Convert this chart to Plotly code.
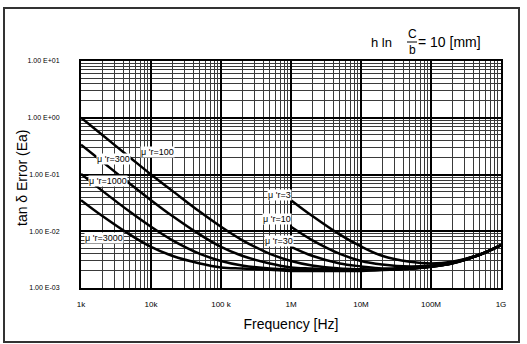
import plotly.graph_objects as go

# frequencies [Hz] and tan-delta error
freq = [1e3, 2e3, 5e3, 1e4, 2e4, 5e4, 1e5, 2e5, 5e5, 1e6, 2e6, 5e6,
        1e7, 2e7, 5e7, 1e8, 2e8, 5e8, 1e9]
freq_hi = [1e6, 2e6, 5e6, 1e7, 2e7, 5e7, 1e8, 2e8, 5e8, 1e9]

ea_100 = [1.0, 0.50, 0.20, 0.10, 0.052, 0.022, 0.012, 0.0070, 0.0040, 0.0030,
          0.0025, 0.0022, 0.00214, 0.00212, 0.0022, 0.00238, 0.00274, 0.00385, 0.0057]
ea_300 = [0.335, 0.169, 0.0687, 0.0353, 0.0187, 0.0087, 0.0053, 0.0037, 0.0027, 0.0023,
          0.0022, 0.0021, 0.00207, 0.00209, 0.00219, 0.00237, 0.00274, 0.00385, 0.0057]
ea_1000 = [0.102, 0.052, 0.022, 0.012, 0.0070, 0.0040, 0.0030, 0.0025, 0.0022, 0.0021,
           0.00206, 0.00204, 0.00205, 0.00208, 0.00219, 0.00237, 0.00274, 0.00385, 0.0057]
ea_3000 = [0.0353, 0.0187, 0.0087, 0.0053, 0.0037, 0.0027, 0.0023, 0.0022, 0.0021, 0.0020,
           0.0020, 0.0020, 0.0020, 0.0021, 0.0022, 0.0024, 0.0027, 0.0039, 0.0057]
ea_3 = [0.0353, 0.0187, 0.0087, 0.0054, 0.0037, 0.0029, 0.0027, 0.0029, 0.0039, 0.0057]
ea_10 = [0.012, 0.0070, 0.0040, 0.0030, 0.0026, 0.0024, 0.0025, 0.0028, 0.0039, 0.0057]
ea_30 = [0.0053, 0.0037, 0.0027, 0.0024, 0.0022, 0.0023, 0.0024, 0.0028, 0.0039, 0.0057]

x_tickvals = [1e3, 1e4, 1e5, 1e6, 1e7, 1e8, 1e9]
x_ticktext = ['1k', '10k', '100 k', '1M', '10M', '100M', '1G']
y_tickvals = [1e-3, 1e-2, 1e-1, 1e0, 1e1]
y_ticktext = ['1.00 E-03', '1.00 E-02', '1.00 E-01', '1.00 E+00', '1.00 E+01']

# curve labels: (text, log10 f, log10 Ea)
labels = [
    ("μ 'r=100", 4.09, -0.60),
    ("μ 'r=300", 3.47, -0.73),
    ("μ 'r=1000", 3.39, -1.12),
    ("μ 'r=3000", 3.33, -2.12),
    ("μ 'r=3", 5.83, -1.36),
    ("μ 'r=10", 5.80, -1.78),
    ("μ 'r=30", 5.83, -2.17),
]

FONT = 'Liberation Sans'


def px_x(px):
    return (px - 81) / 420


def px_y(py):
    return (288 - py) / 227


fig = go.Figure()
for ys in [ea_100, ea_300, ea_1000, ea_3000]:
    fig.add_trace(go.Scatter(x=freq, y=ys, mode='lines',
                             line=dict(color='black', width=2.5, shape='spline')))
for ys in [ea_3, ea_10, ea_30]:
    fig.add_trace(go.Scatter(x=freq_hi, y=ys, mode='lines',
                             line=dict(color='black', width=2.5, shape='spline')))

for text, lx, ly in labels:
    fig.add_annotation(x=lx, y=ly, xref='x', yref='y', text=text, showarrow=False,
                       xanchor='center', yanchor='middle',
                       font=dict(family=FONT, size=9, color='black'),
                       bgcolor='white', borderpad=0)

# h ln C/b = 10 [mm]
fig.add_annotation(x=px_x(394), y=px_y(42), xref='paper', yref='paper',
                   text='h ln', showarrow=False, xanchor='right', yanchor='middle',
                   font=dict(family=FONT, size=13, color='black'))
fig.add_annotation(x=px_x(412), y=px_y(34), xref='paper', yref='paper',
                   text='C', showarrow=False, xanchor='center', yanchor='middle',
                   font=dict(family=FONT, size=12, color='black'))
fig.add_annotation(x=px_x(412), y=px_y(50), xref='paper', yref='paper',
                   text='b', showarrow=False, xanchor='center', yanchor='middle',
                   font=dict(family=FONT, size=12, color='black'))
fig.add_annotation(x=px_x(416), y=px_y(42), xref='paper', yref='paper',
                   text='= 10 [mm]', showarrow=False, xanchor='left', yanchor='middle',
                   font=dict(family=FONT, size=14, color='black'))
fig.add_shape(type='line', xref='paper', yref='paper',
              x0=px_x(407), x1=px_x(417), y0=px_y(42), y1=px_y(42),
              line=dict(color='black', width=1))

# y axis title, placed by hand
fig.add_annotation(x=px_x(22), y=px_y(178), xref='paper', yref='paper',
                   text='tan δ Error (Ea)', showarrow=False, textangle=-90,
                   xanchor='center', yanchor='middle',
                   font=dict(family=FONT, size=14, color='black'))

# outer frame
fig.add_shape(type='rect', xref='paper', yref='paper',
              x0=px_x(4), x1=px_x(519), y0=px_y(342), y1=px_y(8),
              line=dict(color='#333333', width=2))

fig.update_xaxes(type='log', range=[3, 9], tickvals=x_tickvals, ticktext=x_ticktext,
                 showgrid=True, gridcolor='black', gridwidth=1.5,
                 minor=dict(dtick='D1', showgrid=True, gridcolor='#3a3a3a', gridwidth=1),
                 showline=True, linecolor='black', linewidth=2, mirror=True,
                 ticks='', ticklabelstandoff=7, automargin=False,
                 tickfont=dict(family=FONT, size=8, color='black'),
                 title=dict(text='Frequency [Hz]', standoff=12,
                            font=dict(family=FONT, size=14, color='black')),
                 zeroline=False)
fig.update_yaxes(type='log', range=[-3, 1], tickvals=y_tickvals, ticktext=y_ticktext,
                 showgrid=True, gridcolor='black', gridwidth=1.5,
                 minor=dict(dtick='D1', showgrid=True, gridcolor='#3a3a3a', gridwidth=1),
                 showline=True, linecolor='black', linewidth=2, mirror=True,
                 ticks='', ticklabelstandoff=18, automargin=False,
                 tickfont=dict(family=FONT, size=7, color='black'),
                 zeroline=False)

fig.update_layout(width=527, height=344, showlegend=False,
                  margin=dict(l=81, r=26, t=61, b=56),
                  paper_bgcolor='white', plot_bgcolor='white')

# drop the browser's default page margin so the figure sits at (0, 0)
fig.write_html("out.html", config={'displayModeBar': False},
               post_script="document.body.style.margin='0';")
